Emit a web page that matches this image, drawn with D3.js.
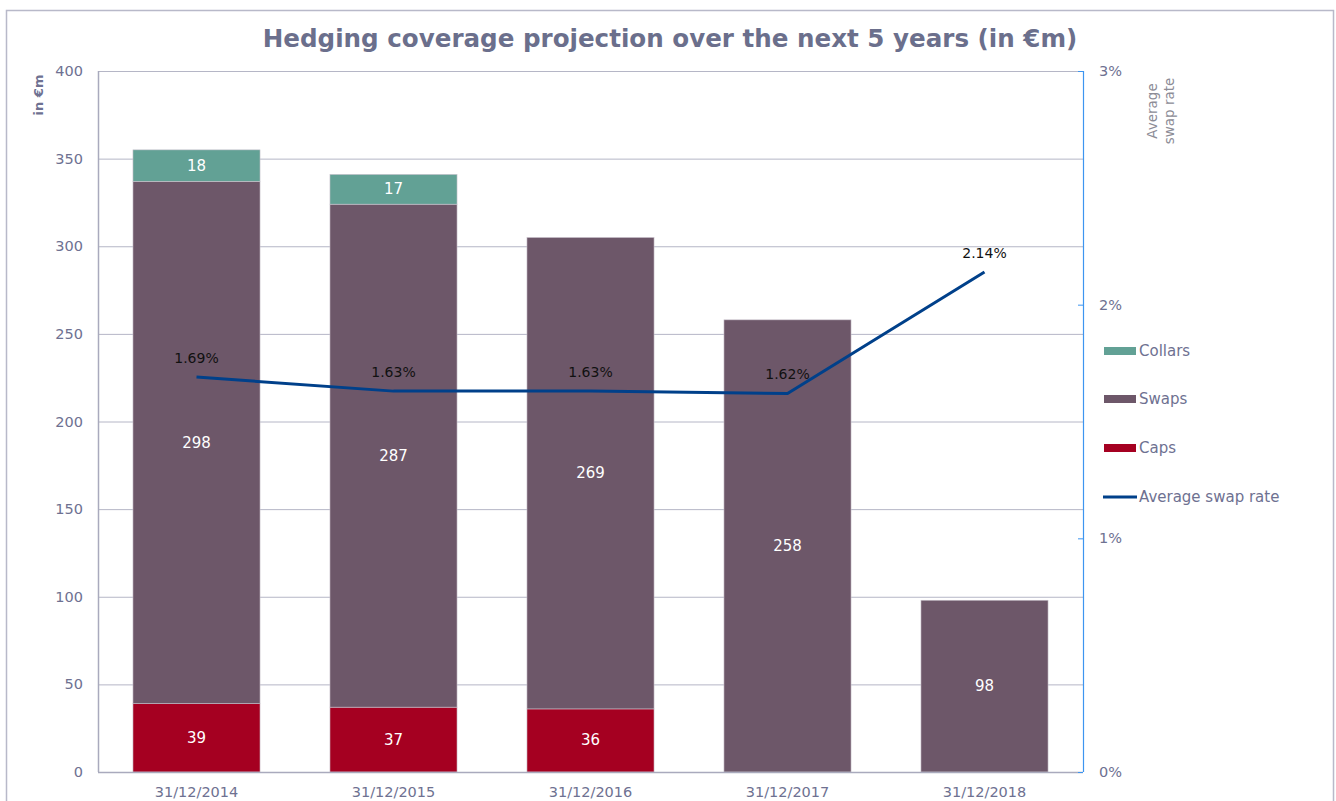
<!DOCTYPE html>
<html><head><meta charset="utf-8">
<script src="https://cdn.jsdelivr.net/npm/d3@7"></script>
<style>
body{margin:0;background:#fff;}
svg{display:block;font-family:"DejaVu Sans",sans-serif;}
</style></head>
<body><svg id="c" width="1336" height="801"></svg>
<script>
const categories = ["31/12/2014","31/12/2015","31/12/2016","31/12/2017","31/12/2018"];
const caps = [39, 37, 36, 0, 0];
const swaps = [298, 287, 269, 258, 98];
const collars = [18, 17, 0, 0, 0];
const swapRate = [1.69, 1.63, 1.63, 1.62, 2.14];
const leftTicks = [0,50,100,150,200,250,300,350,400];
const rightTicks = [0,1,2,3];

const svg = d3.select("#c");
const m = {l:98, r:1083, t:71, b:772};
const labelColor = "#6e7191";

// outer frame
svg.append("path").attr("d","M6.5,801 V10.5 H1333.5 V801").attr("fill","none").attr("stroke","#b8b9c9").attr("stroke-width",1.5);

const x = d3.scaleBand().domain(categories).range([m.l,m.r]).paddingInner(0.355).paddingOuter(0.1775);
const y = d3.scaleLinear().domain([0,400]).range([m.b,m.t]);
const y2 = d3.scaleLinear().domain([0,3]).range([m.b,m.t]);

// gridlines
svg.append("g").selectAll("line").data(leftTicks.filter(d=>d>0)).join("line")
  .attr("x1",m.l).attr("x2",m.r).attr("y1",d=>y(d)+0.5).attr("y2",d=>y(d)+0.5)
  .attr("stroke","#b5b6c6").attr("stroke-width",1);

// stacks
const data = categories.map((c,i)=>({cat:c, Caps:caps[i], Swaps:swaps[i], Collars:collars[i]}));
const keys = ["Caps","Swaps","Collars"];
const colors = {Caps:"#a50021", Swaps:"#6d5769", Collars:"#62a195"};
const stack = d3.stack().keys(keys)(data);
const g = svg.append("g");
stack.forEach(layer=>{
  layer.forEach(d=>{
    const v = d[1]-d[0];
    if(v<=0) return;
    g.append("rect").attr("x",x(d.data.cat)).attr("width",x.bandwidth())
      .attr("y",y(d[1])).attr("height",y(d[0])-y(d[1]))
      .attr("fill",colors[layer.key]).attr("stroke","#c9c2cc").attr("stroke-width",0.6);
    g.append("text").attr("x",x(d.data.cat)+x.bandwidth()/2).attr("y",(y(d[0])+y(d[1]))/2+5)
      .attr("text-anchor","middle").attr("fill","#fff").attr("font-size",15).text(v);
  });
});

// axes lines
svg.append("line").attr("x1",m.l+0.5).attr("x2",m.l+0.5).attr("y1",m.t).attr("y2",m.b).attr("stroke","#a9aabd").attr("stroke-width",1.5);
svg.append("line").attr("x1",m.l).attr("x2",m.r).attr("y1",m.b+0.5).attr("y2",m.b+0.5).attr("stroke","#a9aabd").attr("stroke-width",1.5);
svg.append("line").attr("x1",m.r+0.5).attr("x2",m.r+0.5).attr("y1",m.t).attr("y2",m.b).attr("stroke","#3d95f0").attr("stroke-width",1.2);
svg.append("g").selectAll("line").data(rightTicks).join("line")
  .attr("x1",m.r-5).attr("x2",m.r).attr("y1",d=>y2(d)+0.5).attr("y2",d=>y2(d)+0.5).attr("stroke","#3d95f0");

// left tick labels
svg.append("g").selectAll("text").data(leftTicks).join("text")
  .attr("x",83).attr("y",d=>y(d)+5).attr("text-anchor","end").attr("fill",labelColor).attr("font-size",14.5).text(d=>d);
// right tick labels
svg.append("g").selectAll("text").data(rightTicks).join("text")
  .attr("x",1099).attr("y",d=>y2(d)+5).attr("fill",labelColor).attr("font-size",14.5).text(d=>d+"%");
// x tick labels
svg.append("g").selectAll("text").data(categories).join("text")
  .attr("x",d=>x(d)+x.bandwidth()/2).attr("y",797).attr("text-anchor","middle").attr("fill",labelColor).attr("font-size",14.5).text(d=>d);

// axis titles
svg.append("text").attr("transform","translate(43,95) rotate(-90)").attr("text-anchor","middle")
  .attr("fill",labelColor).attr("font-size",13).attr("font-weight","bold").text("in €m");
const rt = svg.append("text").attr("transform","translate(1157,111) rotate(-90)").attr("text-anchor","middle")
  .attr("fill","#8c8c96").attr("font-size",13.5);
rt.append("tspan").attr("x",0).attr("dy",0).text("Average");
rt.append("tspan").attr("x",0).attr("dy",17).text("swap rate");

// title
const title = svg.append("text").attr("x",670).attr("y",47).attr("text-anchor","middle").attr("fill","#6b6f8c")
  .attr("font-size",26).attr("font-weight","bold").text("Hedging coverage projection over the next 5 years (in €m)");
const tw = title.node().getComputedTextLength();
title.attr("font-size", 26*815/tw);

// line
const line = d3.line().x((d,i)=>x(categories[i])+x.bandwidth()/2).y(d=>y2(d));
svg.append("path").attr("d",line(swapRate)).attr("fill","none").attr("stroke","#00408a").attr("stroke-width",3);
svg.append("g").selectAll("text").data(swapRate).join("text")
  .attr("x",(d,i)=>x(categories[i])+x.bandwidth()/2).attr("y",d=>y2(d)-14)
  .attr("text-anchor","middle").attr("fill","#111").attr("font-size",14).text(d=>d.toFixed(2)+"%");

// legend
const legend = [{k:"Collars",c:colors.Collars,t:"rect"},{k:"Swaps",c:colors.Swaps,t:"rect"},{k:"Caps",c:colors.Caps,t:"rect"},{k:"Average swap rate",c:"#00408a",t:"line"}];
const ly = [351,399,448,497];
legend.forEach((d,i)=>{
  if(d.t==="rect") svg.append("rect").attr("x",1104).attr("y",ly[i]-4).attr("width",32).attr("height",8).attr("fill",d.c);
  else svg.append("line").attr("x1",1103).attr("x2",1137).attr("y1",ly[i]).attr("y2",ly[i]).attr("stroke",d.c).attr("stroke-width",3);
  svg.append("text").attr("x",1139).attr("y",ly[i]+5).attr("fill",labelColor).attr("font-size",15).text(d.k);
});
</script></body></html>
